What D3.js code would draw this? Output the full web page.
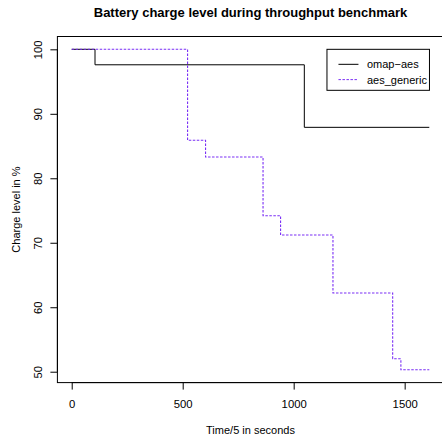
<!DOCTYPE html>
<html>
<head>
<meta charset="utf-8">
<script src="https://cdn.jsdelivr.net/npm/d3@7"></script>
<style>
  html, body { margin: 0; padding: 0; background: #fff; }
  svg { display: block; }
  text { font-family: "Liberation Sans", Arial, Helvetica, sans-serif; fill: #000; }
</style>
</head>
<body>
<svg id="chart" width="442" height="439"></svg>
<script>
// Battery level samples (time/5 s, charge %), step changes only
const omapTime   = [0, 105, 1048, 1611];
const omapLevel  = [100, 97.6, 87.9, 87.9];
const genTime    = [0, 522, 603, 862, 941, 1177, 1446, 1483, 1611];
const genLevel   = [100, 85.9, 83.3, 74.2, 71.2, 62.2, 52.0, 50.3, 50.3];
const xTicks     = [0, 500, 1000, 1500];
const yTicks     = [50, 60, 70, 80, 90, 100];
const seriesNames  = ["omap\u2212aes", "aes_generic"];
const seriesColors = ["#000000", "#7a2ff5"];

const svg = d3.select("#chart");

// R-style 4% padding around the data extent
function padded(ext) {
  const p = (ext[1] - ext[0]) * 0.04;
  return [ext[0] - p, ext[1] + p];
}
const xExt = d3.extent(omapTime.concat(genTime));
const yExt = d3.extent(omapLevel.concat(genLevel));

const plot = { left: 57.4, right: 443.6, top: 36.5, bottom: 382.6 };
const x = d3.scaleLinear().domain(padded(xExt)).range([plot.left, plot.right]);
const y = d3.scaleLinear().domain(padded(yExt)).range([plot.bottom, plot.top]);

// plot frame
svg.append("rect")
  .attr("x", plot.left).attr("y", plot.top)
  .attr("width", plot.right - plot.left).attr("height", plot.bottom - plot.top)
  .attr("fill", "none").attr("stroke", "#000").attr("stroke-width", 1);

// x axis (ticks below the frame)
const xAxis = svg.append("g")
  .attr("transform", `translate(0,${plot.bottom})`)
  .call(d3.axisBottom(x).tickValues(xTicks).tickSize(7).tickPadding(10).tickFormat(d3.format("d")));
xAxis.select(".domain").attr("d", `M${x(xTicks[0])},0H${x(xTicks[xTicks.length - 1])}`);
xAxis.selectAll("text").attr("font-size", 11.3).attr("font-family", null);

// y axis with labels rotated parallel to the axis
const yAxis = svg.append("g")
  .attr("transform", `translate(${plot.left},0)`)
  .call(d3.axisLeft(y).tickValues(yTicks).tickSize(7).tickFormat(d3.format("d")));
yAxis.select(".domain").attr("d", `M0,${y(yTicks[0])}V${y(yTicks[yTicks.length - 1])}`);
yAxis.selectAll(".tick text")
  .attr("font-size", 11.3).attr("font-family", null)
  .attr("x", null).attr("dy", null)
  .attr("text-anchor", "middle")
  .attr("transform", "translate(-15,0) rotate(-90)");

svg.selectAll(".tick line, .domain").attr("stroke", "#000");

// step lines
const line = d3.line().curve(d3.curveStepAfter).x(d => x(d[0])).y(d => y(d[1]));
const omap = omapTime.map((t, i) => [t, omapLevel[i]]);
const gen  = genTime.map((t, i) => [t, genLevel[i]]);

svg.append("path").datum(omap)
  .attr("d", line).attr("fill", "none")
  .attr("stroke", seriesColors[0]).attr("stroke-width", 1);
svg.append("path").datum(gen)
  .attr("d", line).attr("fill", "none")
  .attr("stroke", seriesColors[1]).attr("stroke-width", 1.1)
  .attr("stroke-dasharray", "2.5,1.5");

// title and axis labels
svg.append("text")
  .attr("x", (plot.left + plot.right) / 2).attr("y", 17)
  .attr("text-anchor", "middle").attr("font-weight", "bold").attr("font-size", 13)
  .text("Battery charge level during throughput benchmark");
svg.append("text")
  .attr("x", (plot.left + plot.right) / 2).attr("y", 434)
  .attr("text-anchor", "middle").attr("font-size", 11)
  .text("Time/5 in seconds");
svg.append("text")
  .attr("transform", `translate(20,${(plot.top + plot.bottom) / 2}) rotate(-90)`)
  .attr("text-anchor", "middle").attr("font-size", 11)
  .text("Charge level in %");

// legend anchored at (1150, 100) in data coordinates
const lg = svg.append("g").attr("transform", `translate(${x(1150)},${y(100)})`);
lg.append("rect")
  .attr("x", 0).attr("y", 0).attr("width", 102.5).attr("height", 41)
  .attr("fill", "#fff").attr("stroke", "#000").attr("stroke-width", 1);
seriesNames.forEach((name, i) => {
  const ry = 15 + i * 15.3;
  lg.append("line")
    .attr("x1", 11.5).attr("x2", 31.5).attr("y1", ry).attr("y2", ry)
    .attr("stroke", seriesColors[i]).attr("stroke-width", 1)
    .attr("stroke-dasharray", i === 1 ? "2.5,1.5" : null);
  lg.append("text")
    .attr("x", 40).attr("y", ry + 4)
    .attr("font-size", 11)
    .text(name);
});
</script>
</body>
</html>
